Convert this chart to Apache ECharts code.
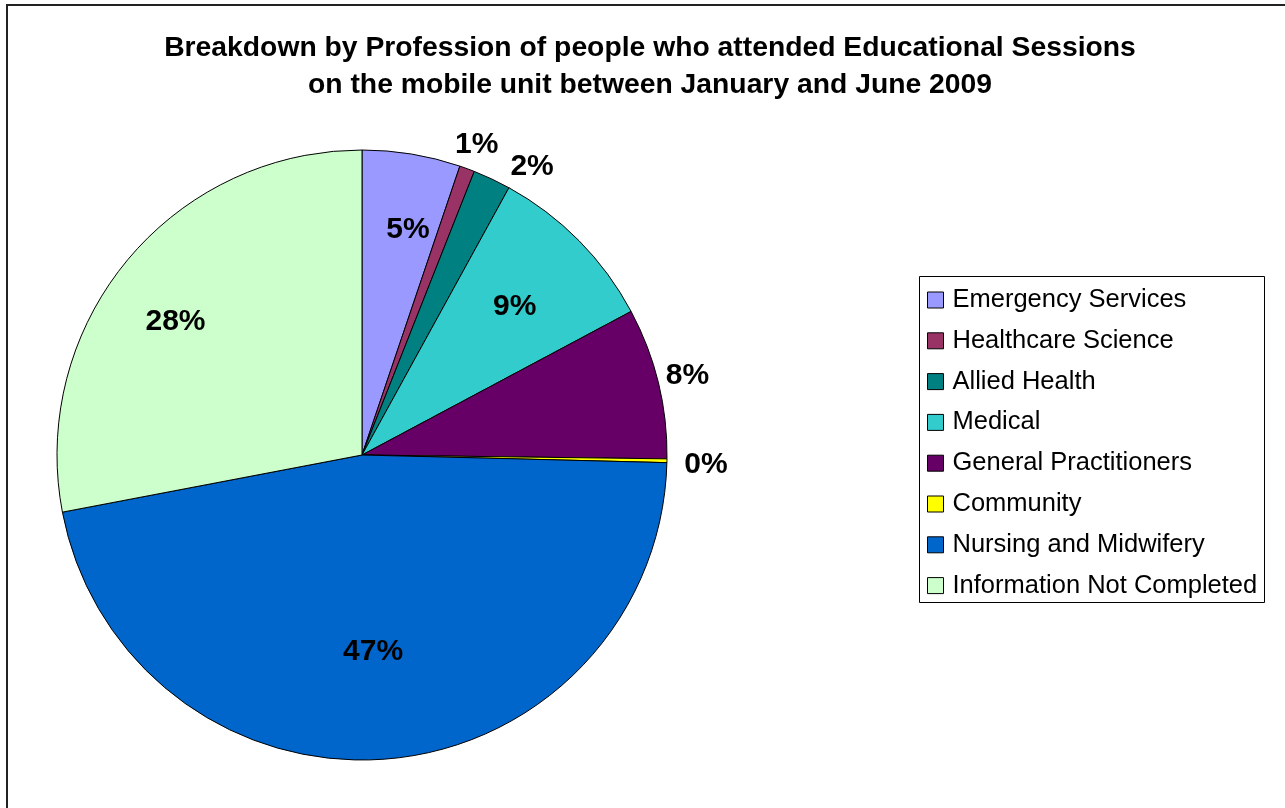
<!DOCTYPE html>
<html>
<head>
<meta charset="utf-8">
<script src="https://cdn.jsdelivr.net/npm/echarts@6/dist/echarts.min.js"></script>
<style>html,body{margin:0;padding:0;background:#fff}#c{width:1285px;height:808px}</style>
</head>
<body>
<div id="c"></div>
<script>
const titleLines = [
  'Breakdown by Profession of people who attended Educational Sessions',
  'on the mobile unit between January and June 2009'
];
const categories = [
  'Emergency Services',
  'Healthcare Science',
  'Allied Health',
  'Medical',
  'General Practitioners',
  'Community',
  'Nursing and Midwifery',
  'Information Not Completed'
];
const values = [5.2, 0.8, 2.0, 9.2, 8.0, 0.2, 46.6, 28.0];
const colors = ['#9999FF', '#993366', '#008080', '#33CCCC', '#660066', '#FFFF00', '#0066CC', '#CCFFCC'];

// small label nudges (pixels), like Excel's hand-placed data labels
const labelNudge = [[8, 5], [-1, 5], [27, 16], [-1, 4], [-1, 0], [8, 3], [-5, 0], [-7, 15]];

const FONT = '"Liberation Sans", Arial, sans-serif';
const CENTER = [362, 455];
const R = 305;
const total = values.reduce((a, b) => a + b, 0);
const pct = v => Math.round(v / total * 100) + '%';

function labelRing(mid, show) {
  return {
    type: 'pie', silent: true, center: CENTER, radius: [mid - 5, mid + 5],
    startAngle: 90, clockwise: true, avoidLabelOverlap: false, animation: false,
    itemStyle: { color: 'rgba(0,0,0,0)', borderWidth: 0 },
    label: {
      show: true, position: 'inside', rotate: 0,
      formatter: p => pct(p.value),
      fontSize: 30, fontWeight: 'bold', fontFamily: FONT, color: '#000'
    },
    labelLine: { show: false },
    labelLayout: p => ({ dx: labelNudge[p.dataIndex][0], dy: labelNudge[p.dataIndex][1], hideOverlap: false }),
    emphasis: { disabled: true },
    data: categories.map((n, i) => ({ name: n, value: values[i], label: { show: show.includes(i) } }))
  };
}

const chart = echarts.init(document.getElementById('c'), null, { renderer: 'canvas' });
chart.setOption({
  animation: false,
  backgroundColor: '#fff',
  color: colors,
  graphic: [
    { type: 'rect', shape: { x: 7, y: 5, width: 1320, height: 840 },
      style: { fill: null, stroke: '#222', lineWidth: 2 }, silent: true },
    { type: 'rect', shape: { x: 919.5, y: 276.5, width: 345, height: 326 },
      style: { fill: null, stroke: '#000', lineWidth: 1 }, silent: true },
    { type: 'text', x: 650, y: 29.5, silent: true,
      style: { text: titleLines.join('\n'), align: 'center', verticalAlign: 'top',
        fontSize: 28.3, fontWeight: 'bold', fontFamily: FONT, lineHeight: 37, fill: '#000' } }
  ],
  legend: {
    orient: 'vertical', left: 919, top: 276, padding: [10, 8, 4, 8],
    itemWidth: 16, itemHeight: 16, itemGap: 12.8, icon: 'rect',
    selectedMode: false, data: categories,
    itemStyle: { borderColor: '#000', borderWidth: 1 },
    textStyle: { fontSize: 25.5, lineHeight: 28, fontFamily: FONT, color: '#000', padding: [0, 0, 0, 4] }
  },
  series: [
    {
      type: 'pie', center: CENTER, radius: [0, R], startAngle: 90, clockwise: true,
      avoidLabelOverlap: false, silent: true,
      itemStyle: { borderColor: '#000', borderWidth: 1 },
      label: { show: false }, labelLine: { show: false },
      emphasis: { disabled: true },
      data: categories.map((n, i) => ({ name: n, value: values[i] }))
    },
    labelRing(230, [0, 7]),
    labelRing(213, [3]),
    labelRing(194, [6]),
    labelRing(333, [1, 2, 4, 5])
  ]
});
</script>
</body>
</html>
